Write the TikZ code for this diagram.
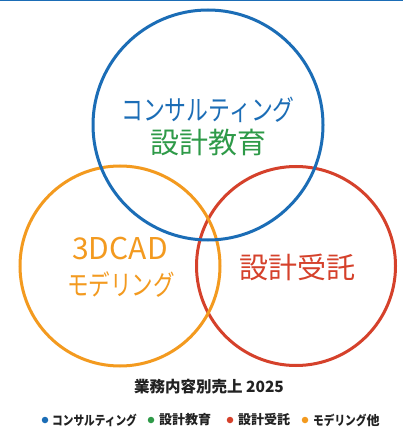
\documentclass[tikz,border=0pt]{standalone}
\usepackage{fontspec}
\usepackage{graphicx}
\newfontfamily\jp{Noto Sans CJK JP}
\definecolor{cblue}{HTML}{1B6DB6}
\definecolor{cgreen}{HTML}{2E9A48}
\definecolor{cred}{HTML}{D5412B}
\definecolor{corange}{HTML}{F39A1F}
\definecolor{ctext}{HTML}{222222}
\tikzset{
  ring/.style={draw=#1, line width=3pt, fill=none},
  lbl/.style={font=\jp, inner sep=0pt, anchor=center},
  legdot/.style={circle, fill=#1, inner sep=0pt, minimum size=6.5pt},
  legtxt/.style={font=\jp\bfseries\fontsize{13}{13}\selectfont, text=ctext, inner sep=0pt, anchor=west}
}
\begin{document}
\begin{tikzpicture}[x=1pt,y=-1pt]
\useasboundingbox (0,0) rectangle (403,427);
\fill[white] (0,0) rectangle (403,427);
\draw[cblue, line width=1.5pt] (0,0.75) -- (403,0.75);
% circles
\node[ring=cred, circle, minimum size=199pt, inner sep=0pt] (red) at (296,266) {};
\node[ring=corange, circle, minimum size=200pt, inner sep=0pt] (orange) at (120,266) {};
\node[ring=cblue, circle, minimum size=230pt, inner sep=0pt] (blue) at (208,125) {};
% labels
\node[lbl, text=cblue] (t1) at (208,110) {\fontsize{28}{28}\selectfont\scalebox{0.78}[1]{コンサルティング}};
\node[lbl, text=cgreen] (t2) at (208,143) {\fontsize{29}{29}\selectfont 設計教育};
\node[lbl, text=corange] (t3) at (120,249) {\fontsize{30}{30}\selectfont 3DCAD};
\node[lbl, text=corange] (t4) at (121,285) {\fontsize{28}{28}\selectfont\scalebox{0.77}[1]{モデリング}};
\node[lbl, text=cred] (t5) at (297,267) {\fontsize{29}{29}\selectfont 設計受託};
% title
\node[inner sep=0pt, text=ctext, font=\jp\bfseries\fontsize{15.5}{15.5}\selectfont] (title) at (209,387) {業務内容別売上 2025};
% legend
\node[legdot=cblue] (d1) at (45,420) {};
\node[legtxt] (l1) at (52,420) {\scalebox{0.82}[1]{コンサルティング}};
\node[legdot=cgreen] (d2) at (151,420) {};
\node[legtxt] (l2) at (159,420) {設計教育};
\node[legdot=cred] (d3) at (230,420) {};
\node[legtxt] (l3) at (238,420) {設計受託};
\node[legdot=corange] (d4) at (305,420) {};
\node[legtxt] (l4) at (313,420) {\scalebox{0.82}[1]{モデリング}他};
\end{tikzpicture}
\end{document}
